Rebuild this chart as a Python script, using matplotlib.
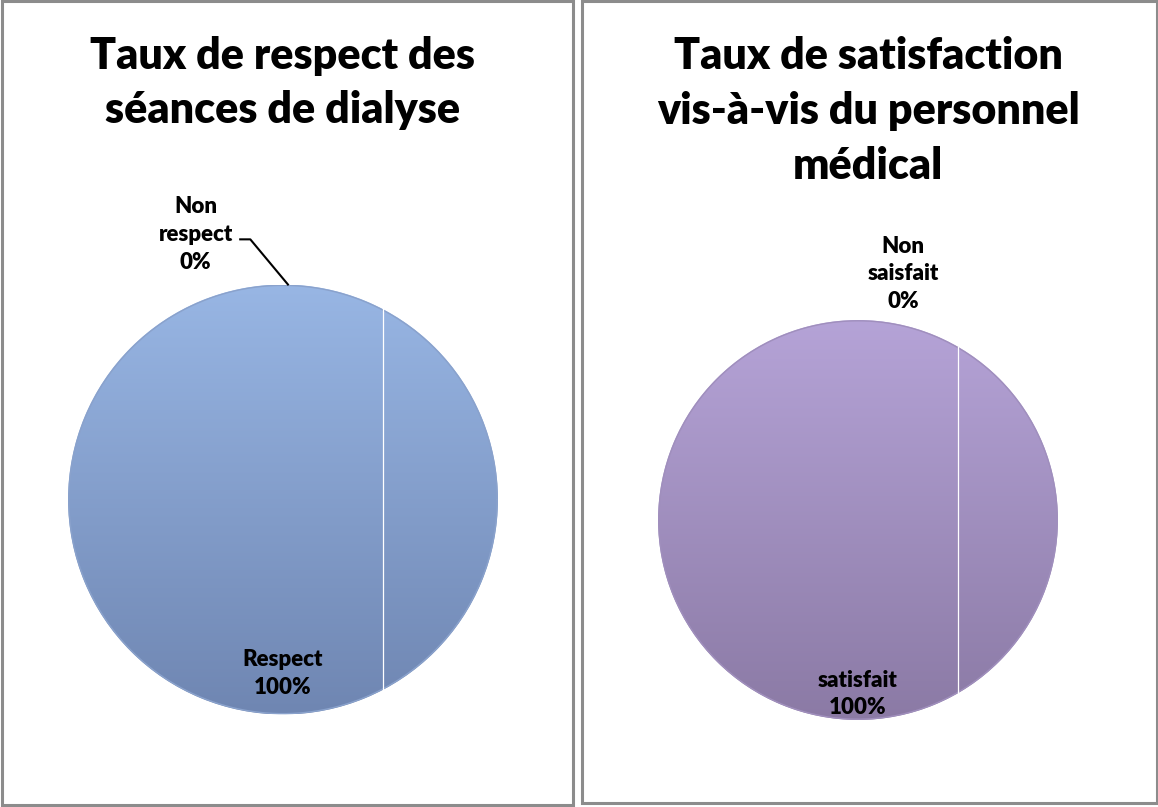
import numpy as np
import matplotlib
matplotlib.use("Agg")
import matplotlib.pyplot as plt
from matplotlib.patches import Rectangle
from matplotlib.colors import LinearSegmentedColormap

# data
titles = ["Taux de respect des\nséances de dialyse",
          "Taux de satisfaction\nvis-à-vis du personnel\nmédical"]
labels_left = ["Respect", "Non\nrespect"]
values_left = [100, 0]
labels_right = ["satisfait", "Non\nsaisfait"]
values_right = [100, 0]

W, H = 1158, 807
fig = plt.figure(figsize=(W / 100, H / 100), dpi=100)
plt.rcParams['font.family'] = ['Lato', 'DejaVu Sans']


def px_axes(x0, y0, w, h):
    # axes from pixel box (top-left origin)
    return fig.add_axes([x0 / W, 1 - (y0 + h) / H, w / W, h / H])


# panel borders
for (x0, y0, x1, y1) in [(2, 1, 573, 805), (582, 1, 1157, 803)]:
    fig.patches.append(Rectangle((x0 / W, 1 - y1 / H), (x1 - x0) / W, (y1 - y0) / H,
                                 transform=fig.transFigure, fill=False,
                                 edgecolor="#8c8c8c", linewidth=2.2))


def draw_pie(box, values, labels, top_col, bot_col, rim_col, small_label, big_label_pos, line_x):
    ax = px_axes(*box)
    wedges, _ = ax.pie(values, startangle=90, counterclock=False, radius=1,
                       wedgeprops=dict(linewidth=0))
    cmap = LinearSegmentedColormap.from_list("g", [bot_col, top_col])
    grad = np.linspace(0, 1, 256).reshape(-1, 1)
    for w in wedges:
        w.set_facecolor("none")
        im = ax.imshow(grad, extent=(-1, 1, -1, 1), origin="lower", cmap=cmap,
                       aspect="auto", zorder=1)
        im.set_clip_path(w)
        break
    # rim
    t = np.linspace(0, 2 * np.pi, 400)
    ax.plot(np.cos(t) * 0.996, np.sin(t) * 0.996, color=rim_col, lw=1.0, zorder=2)
    # thin white artefact line
    yy = np.sqrt(1 - line_x ** 2)
    ax.plot([line_x, line_x], [-yy, yy], color="white", lw=0.9, zorder=3)
    ax.set_xlim(-1, 1)
    ax.set_ylim(-1, 1)
    ax.set_aspect("equal")
    ax.axis("off")
    pct = [f"{v / sum(values) * 100:.0f}%" for v in values]
    bx, by = big_label_pos
    ax.text(bx, by, f"{labels[0]}\n{pct[0]}", ha="center", va="center",
            fontsize=16, fontweight="heavy", linespacing=1.4, zorder=4)
    sx, sy = small_label
    ax.text(sx, sy, f"{labels[1]}\n{pct[1]}", ha="center", va="center",
            fontsize=16, fontweight="heavy", linespacing=1.4, clip_on=False, zorder=4)
    return ax


axl = draw_pie((68, 283, 430, 433), values_left, labels_left, "#98b6e4", "#6f86b2",
               "#8aa2cc", (-0.406, 1.233), (0.0, -0.81), 0.465)
# leader line for the 0% slice
axl.plot([-0.199, -0.152, 0.023], [1.21, 1.21, 1.0], color="black", lw=1.5, clip_on=False)

axr = draw_pie((658, 320, 400, 400), values_right, labels_right, "#b5a3d7", "#8b7aa5",
               "#a08fbd", (0.225, 1.23), (0.0, -0.87), 0.5)

fig.text(283 / W, 1 - 83 / H, titles[0], ha="center", va="center", fontsize=31,
         fontweight="heavy", linespacing=1.4)
fig.text(868 / W, 1 - 111 / H, titles[1], ha="center", va="center", fontsize=31,
         fontweight="heavy", linespacing=1.45)

fig.savefig("out.png", dpi=100)
